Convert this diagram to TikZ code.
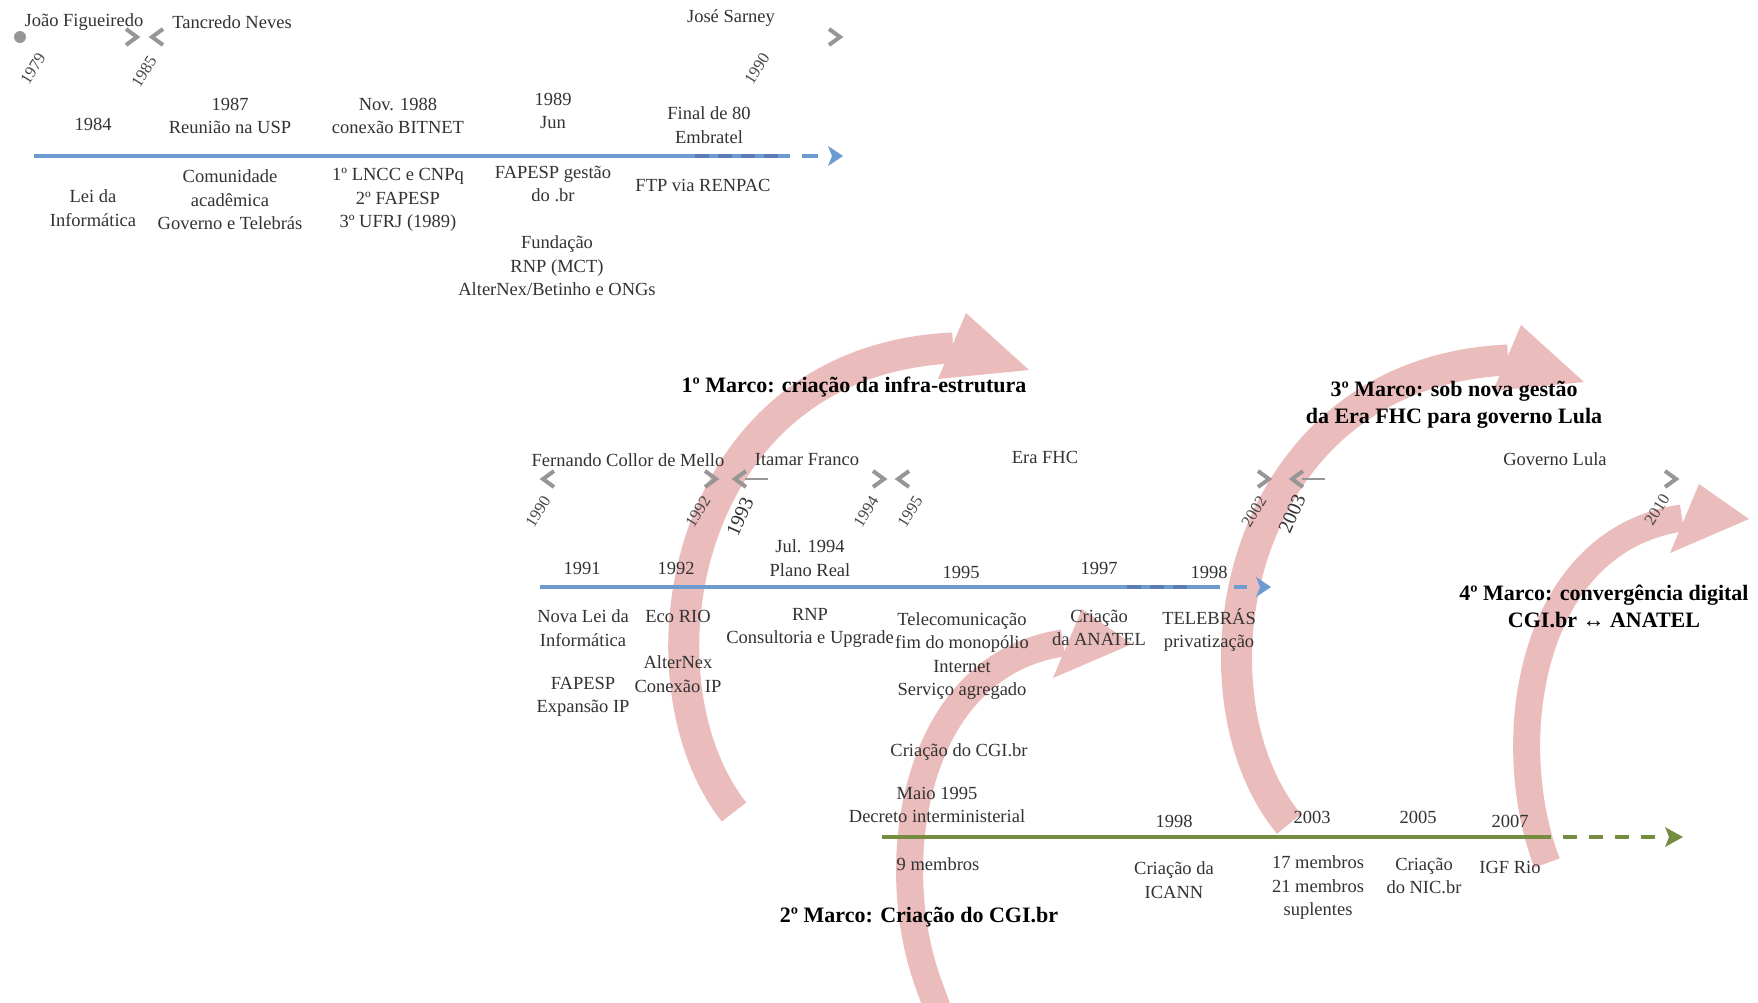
\documentclass[tikz,border=0pt]{standalone}
\usepackage{fontspec}
\setmainfont{Liberation Serif}
\definecolor{tlblue}{RGB}{108,155,210}
\definecolor{tlblued}{RGB}{92,125,175}
\definecolor{tlgreen}{RGB}{118,140,62}
\definecolor{marco}{RGB}{235,188,188}
\definecolor{txt}{RGB}{50,50,50}
\definecolor{chev}{RGB}{150,150,150}
\begin{document}
\begin{tikzpicture}[x=1pt,y=-1pt,
  ev/.style={font=\fontsize{18.5}{23.5}\selectfont, text=txt, inner sep=0pt, align=center},
  yr/.style={font=\fontsize{16.5}{18}\selectfont, text=txt!90, inner sep=0pt, rotate=58},
  yrbig/.style={font=\fontsize{20}{22}\selectfont, text=txt, inner sep=0pt, rotate=66},
  marcotitle/.style={font=\fontsize{22}{27}\selectfont\bfseries, text=black, inner sep=0pt, align=center},
  band/.style={draw=marco, line width=31pt},
  bandsmall/.style={draw=marco, line width=27pt},
  head/.style={fill=marco},
  chevr/.style={draw=chev, line width=4pt, miter limit=10},
  bline/.style={draw=tlblue, line width=4.5pt},
  gline/.style={draw=tlgreen, line width=4.5pt},
]
\useasboundingbox (0,0) rectangle (1758,1002);

% ---------- milestone arrows (behind everything) ----------
\draw[band] (734,812) .. controls (630,680) and (680,360) .. (953,348);
\fill[head] (966,313) -- (1029,370) -- (938,379) -- cycle;

\draw[bandsmall] (938,1010) -- (930,988) .. controls (883,865) and (913,665) .. (1063,643);
\fill[head] (1082,609) -- (1132,644) -- (1053,678) -- cycle;

\draw[band] (1289,824) .. controls (1180,692) and (1235,372) .. (1508,360);
\fill[head] (1521,325) -- (1584,382) -- (1493,391) -- cycle;

\draw[bandsmall] (1547,863) .. controls (1500,740) and (1530,540) .. (1682,518);
\fill[head] (1699,484) -- (1749,519) -- (1670,553) -- cycle;

% ---------- top timeline: 1979-1990 ----------
\fill[chev] (20,37) circle (6);
\node[ev] (pfig) at (84,22) {João Figueiredo};
\draw[chevr] (132,37) +(-6,-8) -- +(5,0) -- +(-6,8);
\draw[chevr] (157,37) +(6,-8) -- +(-5,0) -- +(6,8);
\node[ev] (ptan) at (232,22) {Tancredo Neves};
\node[ev] (psar) at (731,18) {José Sarney};
\draw[chevr] (835,37) +(-6,-8) -- +(5,0) -- +(-6,8);
\node[yr] (y1979) at (33,69) {1979};
\node[yr] (y1985) at (144,72) {1985};
\node[yr] (y1990a) at (757,69) {1990};

\coordinate (ta) at (34,156);
\coordinate (tb) at (790,156);
\coordinate (tc) at (695,156);
\coordinate (td) at (785,156);
\coordinate (te) at (802,156);
\coordinate (tf) at (818,156);
\draw[bline] (ta) -- (tb);
\draw[draw=tlblued, line width=4.5pt, dash pattern=on 14pt off 9pt] (tc) -- (td);
\draw[bline] (te) -- (tf);
\fill[tlblue] (828,146) -- (843,156) -- (828,166) -- (832,156) -- cycle;

\node[ev] (a1984) at (93,124) {1984};
\node[ev] (b1984) at (93,208) {Lei da\\Informática};
\node[ev] (a1987) at (230,116) {1987\\Reunião na USP};
\node[ev] (b1987) at (230,200) {Comunidade\\acadêmica\\Governo e Telebrás};
\node[ev] (a1988) at (398,116) {Nov. 1988\\conexão BITNET};
\node[ev] (b1988) at (398,200) {1º LNCC e CNPq\\2º FAPESP\\3º UFRJ (1989)};
\node[ev] (a1989) at (553,111) {1989\\Jun};
\node[ev] (b1989) at (553,184) {FAPESP gestão\\do .br};
\node[ev] (c1989) at (557,266) {Fundação\\RNP (MCT)\\AlterNex/Betinho e ONGs};
\node[ev] (a1980) at (709,125) {Final de 80\\Embratel};
\node[ev] (b1980) at (703,185) {FTP via RENPAC};

% ---------- middle timeline: 1990-2010 ----------
\draw[chevr] (548,479) +(6,-8) -- +(-5,0) -- +(6,8);
\node[ev] (pcol) at (628,460) {Fernando Collor de Mello};
\draw[chevr] (711,479) +(-6,-8) -- +(5,0) -- +(-6,8);
\draw[chevr] (740,479) +(6,-8) -- +(-5,0) -- +(6,8);
\draw[draw=chev, line width=2pt] (745,479) -- (768,479);
\node[ev] (pita) at (807,460) {Itamar Franco};
\draw[chevr] (879,479) +(-6,-8) -- +(5,0) -- +(-6,8);
\draw[chevr] (903,479) +(6,-8) -- +(-5,0) -- +(6,8);
\node[ev] (pfhc) at (1045,457) {Era FHC};
\draw[chevr] (1264,479) +(-6,-8) -- +(5,0) -- +(-6,8);
\draw[chevr] (1297,479) +(6,-8) -- +(-5,0) -- +(6,8);
\draw[draw=chev, line width=2pt] (1302,479) -- (1325,479);
\node[ev] (plula) at (1555,459) {Governo Lula};
\draw[chevr] (1671,479) +(-6,-8) -- +(5,0) -- +(-6,8);

\node[yr] (y1990) at (538,512) {1990};
\node[yr] (y1992) at (698,512) {1992};
\node[yrbig] (y1993) at (740,517) {1993};
\node[yr] (y1994) at (866,512) {1994};
\node[yr] (y1995) at (910,512) {1995};
\node[yr] (y2002) at (1254,512) {2002};
\node[yrbig] (y2003) at (1292,514) {2003};
\node[yr] (y2010) at (1657,510) {2010};

\coordinate (ma) at (540,587);
\coordinate (mb) at (1220,587);
\coordinate (mc) at (1127,587);
\coordinate (md) at (1194,587);
\coordinate (me) at (1234,587);
\coordinate (mf) at (1247,587);
\draw[bline] (ma) -- (mb);
\draw[draw=tlblued, line width=4.5pt, dash pattern=on 14pt off 9pt] (mc) -- (md);
\draw[bline] (me) -- (mf);
\fill[tlblue] (1256,577) -- (1271,587) -- (1256,597) -- (1260,587) -- cycle;

\node[ev] (a1991) at (582,568) {1991};
\node[ev] (b1991) at (583,628) {Nova Lei da\\Informática};
\node[ev] (c1991) at (583,697) {FAPESP\\Expansão IP};
\node[ev] (a1992) at (676,568) {1992};
\node[ev] (b1992) at (678,616) {Eco RIO};
\node[ev] (c1992) at (678,674) {AlterNex\\Conexão IP};
\node[ev] (a1994) at (810,558) {Jul. 1994\\Plano Real};
\node[ev] (b1994) at (810,628) {RNP\\Consultoria e Upgrade};
\node[ev] (a1995) at (961,572) {1995};
\node[ev] (b1995) at (962,656) {Telecomunicação\\fim do monopólio\\Internet\\Serviço agregado};
\node[ev] (a1997) at (1099,568) {1997};
\node[ev] (b1997) at (1099,628) {Criação\\da ANATEL};
\node[ev] (a1998) at (1209,572) {1998};
\node[ev] (b1998) at (1209,630) {TELEBRÁS\\privatização};

% ---------- bottom timeline: CGI.br ----------
\coordinate (ga) at (882,837);
\coordinate (gb) at (1537,837);
\coordinate (gc) at (1657,837);
\draw[gline] (ga) -- (gb);
\draw[gline, dash pattern=on 14pt off 12pt] (gb) -- (gc);
\fill[tlgreen] (1665,827) -- (1683,837) -- (1665,847) -- (1669,837) -- cycle;

\node[ev] (cgi) at (959,752) {Criação do CGI.br};
\node[ev] (a1995g) at (937,805) {Maio 1995\\Decreto interministerial};
\node[ev] (b1995g) at (938,864) {9 membros};
\node[ev] (a1998g) at (1174,821) {1998};
\node[ev] (b1998g) at (1174,880) {Criação da\\ICANN};
\node[ev] (a2003g) at (1312,817) {2003};
\node[ev] (b2003g) at (1318,888) {17 membros\\21 membros\\suplentes};
\node[ev] (a2005g) at (1418,817) {2005};
\node[ev] (b2005g) at (1424,876) {Criação\\do NIC.br};
\node[ev] (a2007g) at (1510,821) {2007};
\node[ev] (b2007g) at (1510,867) {IGF Rio};

% ---------- milestone titles ----------
\node[marcotitle] (m1) at (854,387) {1º Marco: criação da infra-estrutura};
\node[marcotitle] (m2) at (919,917) {2º Marco: Criação do CGI.br};
\node[marcotitle] (m3) at (1454,405) {3º Marco: sob nova gestão\\da Era FHC para governo Lula};
\node[marcotitle] (m4) at (1604,606) {4º Marco: convergência digital\\CGI.br ↔ ANATEL};
\end{tikzpicture}
\end{document}
